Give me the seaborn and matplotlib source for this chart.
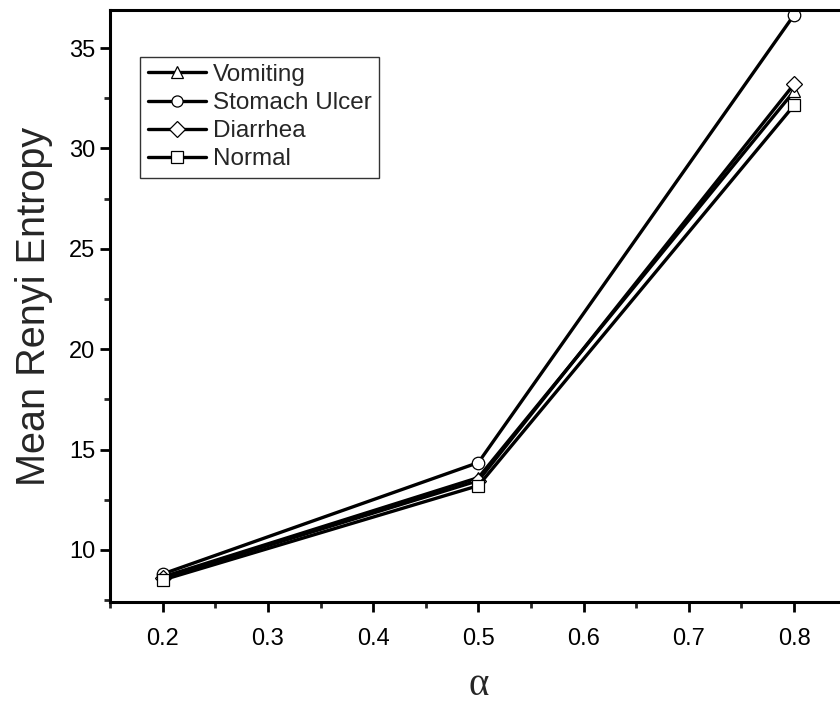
import matplotlib
matplotlib.use("Agg")
import matplotlib.pyplot as plt
import seaborn as sns
import pandas as pd
from matplotlib.ticker import MultipleLocator

alpha = [0.2, 0.5, 0.8]
series_names = ["Vomiting", "Stomach Ulcer", "Diarrhea", "Normal"]
vomiting = [8.65, 13.6, 32.85]
stomach_ulcer = [8.8, 14.35, 36.65]
diarrhea = [8.6, 13.45, 33.2]
normal = [8.5, 13.2, 32.15]

values = {"Vomiting": vomiting, "Stomach Ulcer": stomach_ulcer,
          "Diarrhea": diarrhea, "Normal": normal}
rows = []
for name in series_names:
    for a, v in zip(alpha, values[name]):
        rows.append({"alpha": a, "value": v, "series": name})
df = pd.DataFrame(rows)

sns.set_style("ticks")
plt.rcParams['font.family'] = ['Liberation Sans', 'DejaVu Sans']

fig = plt.figure(figsize=(8.4, 7.05), dpi=100)
ax = fig.add_axes([0.131, 0.146, 0.877, 0.840])

markers = {"Vomiting": "^", "Stomach Ulcer": "o", "Diarrhea": "D", "Normal": "s"}
palette = {n: "black" for n in series_names}
sns.lineplot(data=df, x="alpha", y="value", hue="series", style="series",
             hue_order=series_names, style_order=series_names,
             palette=palette, markers=markers, dashes=False, ax=ax,
             linewidth=2.4, markersize=9, markerfacecolor="white",
             markeredgecolor="black", markeredgewidth=0.9)
for line in ax.lines:
    if line.get_marker() == "D":
        line.set_markersize(8)

ax.set_xlim(0.15, 0.85)
ax.set_ylim(7.4, 36.9)
ax.xaxis.set_major_locator(MultipleLocator(0.1))
ax.xaxis.set_minor_locator(MultipleLocator(0.05))
ax.yaxis.set_major_locator(MultipleLocator(5))
ax.yaxis.set_minor_locator(MultipleLocator(2.5))
ax.set_xticks([0.2, 0.3, 0.4, 0.5, 0.6, 0.7, 0.8])
ax.tick_params(axis="both", which="major", direction="out", length=7, width=2,
               labelsize=17, colors="black")
ax.tick_params(axis="x", which="major", pad=12)
ax.tick_params(axis="both", which="minor", direction="out", length=4, width=2)
for s in ax.spines.values():
    s.set_linewidth(2.2)
    s.set_color("black")

ax.set_xlabel("α", fontsize=28, family=["Liberation Serif", "DejaVu Serif"], labelpad=12)
ax.set_ylabel("Mean Renyi Entropy", fontsize=28.5, labelpad=12)

handles, labels = ax.get_legend_handles_labels()
for h in handles:
    h.set_markerfacecolor("white")
    h.set_markeredgecolor("black")
    h.set_markersize(8)
leg = ax.legend(handles, labels, loc="upper left", bbox_to_anchor=(0.041, 0.921),
                fontsize=17.5, frameon=True, fancybox=False, handlelength=2.4,
                handletextpad=0.3, borderpad=0.3, labelspacing=0.25, borderaxespad=0)
leg.get_frame().set_edgecolor("black")
leg.get_frame().set_linewidth(1.0)

fig.savefig("out.png", dpi=100)
